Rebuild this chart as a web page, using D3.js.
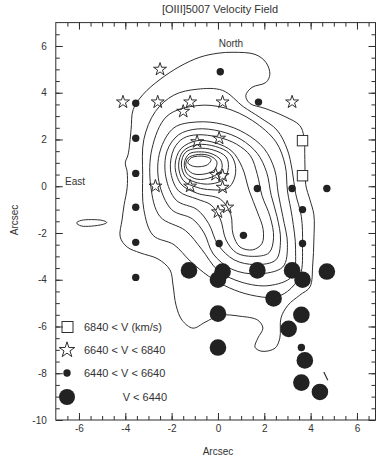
<!DOCTYPE html>
<html>
<head>
<meta charset="utf-8">
<script src="https://cdn.jsdelivr.net/npm/d3@7"></script>
<style>
  body { margin: 0; background: #fff; }
  text { font-family: "Liberation Sans", Arial, sans-serif; fill: #333; }
</style>
</head>
<body>
<div id="chart"></div>
<script>
// positions in arcsec
const squares = [[3.65, 1.95], [3.65, 0.45]];

const stars = [
  [-2.5, 5.0], [-4.1, 3.6], [-2.6, 3.6], [-1.2, 3.6], [-1.5, 3.2], [0.2, 3.6],
  [3.2, 3.6], [-0.9, 1.9], [0.05, 2.05], [-2.7, 0.0], [-1.2, 0.0], [-0.1, 0.5],
  [0.2, 0.45], [0.2, -0.05], [0.0, -1.1], [0.4, -0.9]
];

const smallDots = [
  [-3.55, 3.55], [-3.55, 2.05], [-3.55, 0.55], [-3.55, -0.9], [-3.55, -2.4],
  [-3.55, -3.9], [0.1, 4.9], [1.75, 3.6], [1.7, -0.1], [3.2, -0.1], [4.7, -0.1],
  [3.65, -1.0], [3.65, -2.45], [1.1, -2.1], [0.05, -2.45], [3.6, -6.9]
];

const bigDots = [
  [-1.25, -3.6], [0.2, -3.65], [0.0, -4.0], [1.7, -3.6], [3.2, -3.6], [3.65, -4.0],
  [4.7, -3.65], [2.4, -4.8], [0.0, -5.45], [3.6, -5.5], [3.05, -6.1], [0.0, -6.9],
  [3.75, -7.45], [3.6, -8.4], [4.4, -8.8]
];

// contour lines, outermost first
const c1 = [
  [0.65, 5.73], [1.6, 5.64], [2.07, 5.3], [2.24, 4.79], [2.07, 4.44], [1.47, 4.23],
  [1.2, 3.88], [1.38, 3.54], [2.03, 3.33], [2.89, 2.98], [3.53, 2.6], [3.71, 2.12],
  [3.75, 1.14], [3.79, 0.06], [3.97, -0.58], [4.14, -1.22], [4.14, -2.3], [4.09, -3.37],
  [3.97, -4.31], [3.53, -4.66], [3.02, -5.09], [2.72, -5.64], [2.67, -6.5], [2.46, -6.93],
  [1.9, -7.06], [1.6, -6.89], [1.72, -6.5], [1.94, -6.07], [1.72, -5.73], [0.95, -5.56],
  [0.09, -5.52], [-0.56, -5.82], [-1.08, -6.07], [-1.55, -5.73], [-1.81, -5.09],
  [-1.94, -4.23], [-2.07, -3.58], [-2.59, -3.11], [-3.36, -2.85], [-3.92, -2.6],
  [-4.22, -2.17], [-4.14, -1.44], [-4.05, -0.79], [-3.92, -0.06], [-3.92, 0.62],
  [-4.0, 1.0], [-3.88, 1.35], [-3.75, 2.42], [-3.66, 3.28], [-3.23, 3.93], [-2.5, 4.57],
  [-1.64, 5.13], [-0.78, 5.52], [0.0, 5.69]
];
const c2 = [
  [-0.9, 4.15], [0.2, 4.1], [1.1, 3.4], [1.8, 2.95], [2.55, 2.4], [3.0, 1.55], [3.2, 0.7],
  [3.35, -0.3], [3.6, -1.3], [3.65, -2.5], [3.55, -3.8], [3.0, -4.5], [2.4, -4.75],
  [1.4, -4.65], [0.5, -4.35], [-0.4, -3.85], [-1.2, -3.2], [-1.9, -2.5], [-2.8, -2.1],
  [-3.2, -1.0], [-3.25, 0.5], [-3.2, 2.0], [-2.7, 3.2], [-1.9, 3.9]
];
const c3 = [
  [-0.9, 3.45], [0.3, 3.35], [1.5, 2.8], [2.5, 1.9], [2.9, 0.9], [3.0, -0.2], [3.2, -1.3],
  [3.35, -2.7], [3.2, -3.85], [2.2, -4.25], [1.0, -4.1], [0.0, -3.6], [-0.7, -2.7],
  [-1.4, -1.9], [-2.5, -1.3], [-2.9, 0.0], [-2.85, 1.6], [-2.2, 3.0]
];
const c4 = [
  [-0.9, 2.75], [0.2, 2.65], [1.2, 2.25], [2.0, 1.6], [2.45, 0.7], [2.6, -0.3], [2.8, -1.3],
  [3.0, -2.5], [2.8, -3.45], [1.7, -3.75], [0.6, -3.55], [-0.2, -2.9], [-0.6, -2.0],
  [-1.1, -1.4], [-2.0, -1.0], [-2.55, 0.2], [-2.5, 1.5], [-1.9, 2.5]
];
const c5 = [
  [-0.9, 2.45], [0.1, 2.35], [1.0, 2.0], [1.7, 1.4], [2.1, 0.6], [2.3, -0.4], [2.55, -1.3],
  [2.7, -2.3], [2.5, -3.15], [1.6, -3.35], [0.7, -3.15], [0.0, -2.5], [-0.4, -1.6],
  [-0.9, -1.0], [-1.8, -0.6], [-2.25, 0.4], [-2.2, 1.5], [-1.7, 2.2]
];
const c6 = [
  [-0.9, 2.2], [0.0, 2.1], [0.8, 1.8], [1.4, 1.3], [1.7, 0.5], [1.9, -0.4], [2.25, -1.3],
  [2.4, -2.2], [2.2, -2.85], [1.5, -3.0], [0.8, -2.85], [0.35, -2.3], [0.1, -1.4],
  [-0.3, -0.8], [-0.9, -0.55], [-1.7, -0.2], [-2.05, 0.7], [-1.9, 1.6], [-1.5, 2.05]
];
const c7 = [
  [-0.9, 1.95], [-0.1, 1.85], [0.6, 1.5], [1.05, 0.8], [1.35, -0.2], [1.7, -1.1],
  [1.95, -1.85], [1.9, -2.45], [1.5, -2.72], [0.95, -2.6], [0.65, -2.05], [0.55, -1.2],
  [0.1, -0.55], [-0.9, -0.3], [-1.6, 0.1], [-1.85, 0.9], [-1.6, 1.6]
];
const c8 = [
  [-0.9, 1.78], [-0.1, 1.7], [0.5, 1.4], [0.75, 0.9], [0.7, 0.3], [0.4, -0.1], [-0.3, -0.15],
  [-0.9, -0.05], [-1.5, 0.25], [-1.7, 0.9], [-1.5, 1.5]
];
const c9 = [
  [-0.9, 1.62], [-0.2, 1.55], [0.35, 1.25], [0.45, 0.8], [0.25, 0.3], [-0.3, 0.1],
  [-0.9, 0.15], [-1.4, 0.4], [-1.58, 0.95], [-1.4, 1.45]
];
const c10 = [
  [-0.85, 1.47], [-0.3, 1.4], [0.12, 1.12], [0.15, 0.7], [-0.3, 0.38], [-0.9, 0.3],
  [-1.35, 0.55], [-1.45, 1.0], [-1.25, 1.38]
];
const c11 = [
  [-0.85, 1.36], [-0.35, 1.3], [-0.05, 1.05], [-0.15, 0.7], [-0.6, 0.52], [-1.1, 0.55],
  [-1.38, 0.85], [-1.3, 1.2]
];
const c12 = [[-1.3, 1.0], [-1.15, 1.22], [-0.6, 1.28], [-0.3, 1.15], [-0.45, 0.92], [-1.0, 0.84]];
const blob = [[-6.1, -1.57], [-5.9, -1.46], [-5.0, -1.46], [-4.8, -1.55], [-5.0, -1.64], [-5.9, -1.7]];
const contours = [c1, c2, c3, c4, c5, c6, c7, c8, c9, c10, c11, c12, blob];
const strays = [[[4.57, -7.95], [4.74, -8.3]]];

const xMajor = [-6, -4, -2, 0, 2, 4, 6];
const yMajor = [-10, -8, -6, -4, -2, 0, 2, 4, 6];

const legendItems = ["6840 < V (km/s)", "6640 < V < 6840", "6440 < V < 6640", "V < 6440"];

const width = 382;
const height = 459;

const x = d3.scaleLinear().domain([-7, 6.8]).range([55.8, 375.5]);
const y = d3.scaleLinear().domain([-10, 7]).range([420, 22.6]);

const svg = d3.select('#chart').append('svg')
    .attr('width', width)
    .attr('height', height)
    .style('background', '#fff');

const ink = '#2f2f2f';

svg.append('text')
    .attr('x', 220)
    .attr('y', 13)
    .attr('text-anchor', 'middle')
    .attr('font-size', 11)
    .text('[OIII]5007 Velocity Field');

// contour lines
const closedLine = d3.line()
    .x(d => x(d[0]))
    .y(d => y(d[1]))
    .curve(d3.curveCatmullRomClosed.alpha(0.5));

svg.append('g')
    .selectAll('path')
    .data(contours)
    .join('path')
    .attr('d', closedLine)
    .attr('fill', 'none')
    .attr('stroke', ink)
    .attr('stroke-width', 1);

svg.append('g')
    .selectAll('path')
    .data(strays)
    .join('path')
    .attr('d', d3.line().x(d => x(d[0])).y(d => y(d[1])))
    .attr('stroke', ink)
    .attr('stroke-width', 1.2);

// axes: ticks every half arcsec pointing inward, longer at even numbers
const xMinor = d3.range(-6.5, 6.8, 0.5);
const yMinor = d3.range(-9.5, 7, 0.5);

function addAxis(axis, transform) {
    svg.append('g')
        .attr('transform', transform)
        .call(axis)
        .call(g => g.select('.domain').remove())
        .call(g => g.selectAll('line').attr('stroke', ink))
        .call(g => g.selectAll('text').attr('font-size', 10).attr('fill', '#333')
            .style('font-family', '"Liberation Sans", Arial, sans-serif'));
}

const frameBottom = y(-10), frameTop = y(7), frameLeft = x(-7), frameRight = x(6.8);

addAxis(d3.axisBottom(x).tickValues(xMinor).tickSize(-4).tickFormat(''), `translate(0,${frameBottom})`);
addAxis(d3.axisBottom(x).tickValues(xMajor).tickSize(-7).tickPadding(5).tickFormat(d => String(d)), `translate(0,${frameBottom})`);
addAxis(d3.axisTop(x).tickValues(xMinor).tickSize(-4).tickFormat(''), `translate(0,${frameTop})`);
addAxis(d3.axisTop(x).tickValues(xMajor).tickSize(-7).tickFormat(''), `translate(0,${frameTop})`);
addAxis(d3.axisLeft(y).tickValues(yMinor).tickSize(-4).tickFormat(''), `translate(${frameLeft},0)`);
addAxis(d3.axisLeft(y).tickValues(yMajor).tickSize(-7).tickPadding(9).tickFormat(d => String(d)), `translate(${frameLeft},0)`);
addAxis(d3.axisRight(y).tickValues(yMinor).tickSize(-4).tickFormat(''), `translate(${frameRight},0)`);
addAxis(d3.axisRight(y).tickValues(yMajor).tickSize(-7).tickFormat(''), `translate(${frameRight},0)`);

svg.append('rect')
    .attr('x', frameLeft)
    .attr('y', frameTop)
    .attr('width', frameRight - frameLeft)
    .attr('height', frameBottom - frameTop)
    .attr('fill', 'none')
    .attr('stroke', ink)
    .attr('stroke-width', 1);

// velocity markers
svg.append('g')
    .selectAll('circle')
    .data(bigDots)
    .join('circle')
    .attr('cx', d => x(d[0]))
    .attr('cy', d => y(d[1]))
    .attr('r', 8.3)
    .attr('fill', '#222');

svg.append('g')
    .selectAll('circle')
    .data(smallDots)
    .join('circle')
    .attr('cx', d => x(d[0]))
    .attr('cy', d => y(d[1]))
    .attr('r', 3.7)
    .attr('fill', '#222');

const starPath = d3.symbol(d3.symbolStar, 52)();

svg.append('g')
    .selectAll('path')
    .data(stars)
    .join('path')
    .attr('transform', d => `translate(${x(d[0])},${y(d[1])})`)
    .attr('d', starPath)
    .attr('fill', 'none')
    .attr('stroke', ink)
    .attr('stroke-width', 1);

svg.append('g')
    .selectAll('rect')
    .data(squares)
    .join('rect')
    .attr('x', d => x(d[0]) - 5.2)
    .attr('y', d => y(d[1]) - 5.2)
    .attr('width', 10.4)
    .attr('height', 10.4)
    .attr('fill', 'white')
    .attr('stroke', ink);

// annotations
svg.append('text')
    .attr('x', x(0.56))
    .attr('y', y(5.95))
    .attr('text-anchor', 'middle')
    .attr('font-size', 10)
    .text('North');

svg.append('text')
    .attr('x', x(-6.6))
    .attr('y', y(0.05))
    .attr('font-size', 10)
    .text('East');

// legend
const legendY = [327, 350, 373, 397];
const legend = svg.append('g');

legend.append('rect')
    .attr('x', 62).attr('y', legendY[0] - 5.5)
    .attr('width', 11).attr('height', 11)
    .attr('fill', 'none').attr('stroke', ink);
legend.append('path')
    .attr('transform', `translate(67,${legendY[1]})`)
    .attr('d', d3.symbol(d3.symbolStar, 75)())
    .attr('fill', 'none').attr('stroke', ink);
legend.append('circle')
    .attr('cx', 67).attr('cy', legendY[2]).attr('r', 3.7).attr('fill', '#222');
legend.append('circle')
    .attr('cx', 67).attr('cy', legendY[3]).attr('r', 8).attr('fill', '#222');

legend.selectAll('text')
    .data(legendItems)
    .join('text')
    .attr('x', (d, i) => i === 3 ? 167 : 84)
    .attr('y', (d, i) => legendY[i] + 4)
    .attr('text-anchor', (d, i) => i === 3 ? 'end' : 'start')
    .attr('font-size', 11)
    .text(d => d);

// axis titles
svg.append('text')
    .attr('x', x(0))
    .attr('y', 455)
    .attr('text-anchor', 'middle')
    .attr('font-size', 10)
    .text('Arcsec');

svg.append('text')
    .attr('transform', 'translate(18,220) rotate(-90)')
    .attr('text-anchor', 'middle')
    .attr('font-size', 10)
    .text('Arcsec');
</script>
</body>
</html>
